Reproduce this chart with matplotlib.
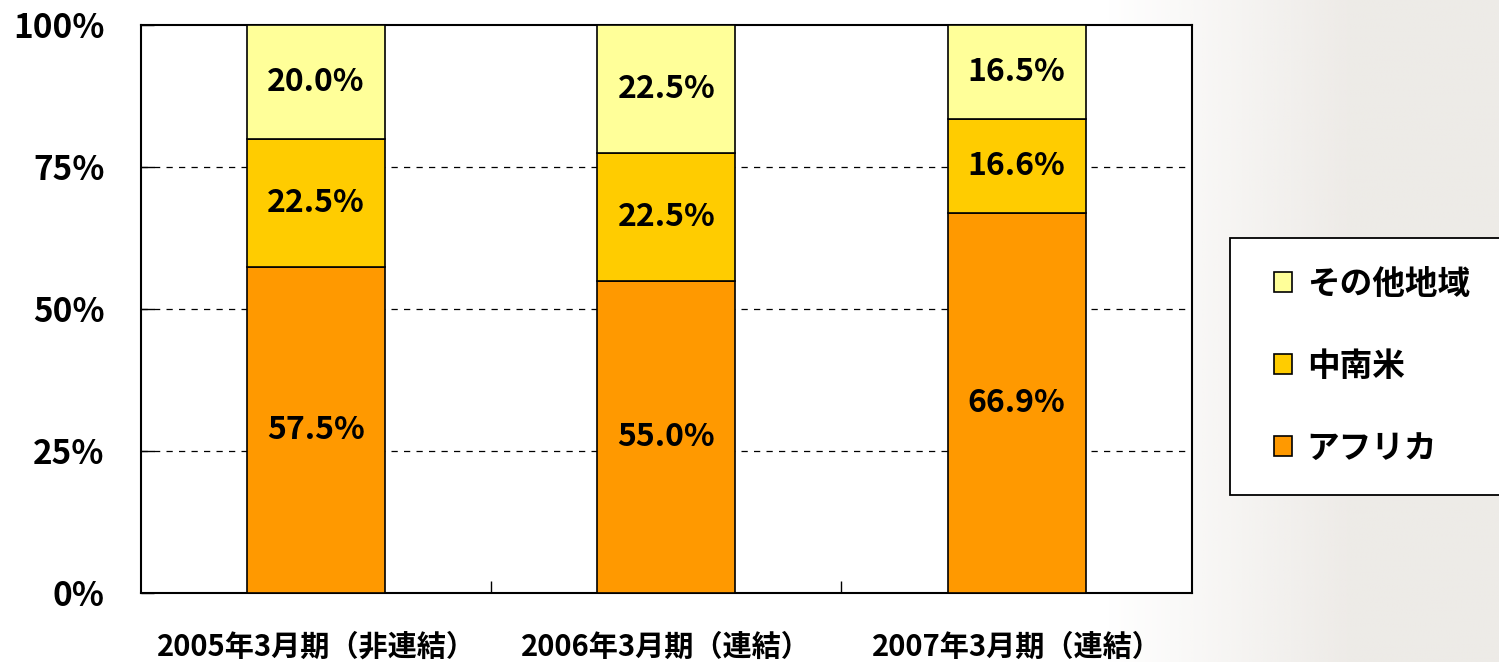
import numpy as np
import matplotlib
matplotlib.use('Agg')
import matplotlib.pyplot as plt
from matplotlib.ticker import FixedLocator
from matplotlib.patches import Rectangle

plt.rcParams['font.family'] = ['Noto Sans CJK JP', 'DejaVu Sans']
plt.rcParams['font.weight'] = 'bold'

# data
periods = ['2005年3月期（非連結）', '2006年3月期（連結）', '2007年3月期（連結）']
africa = [57.5, 55.0, 66.9]
latam = [22.5, 22.5, 16.6]
others = [20.0, 22.5, 16.5]
series_names = ['アフリカ', '中南米', 'その他地域']
colors = ['#FF9900', '#FFCC00', '#FFFF99']
yticks = [0, 25, 50, 75, 100]

fig = plt.figure(figsize=(14.99, 6.62), dpi=100)

# faint textured backdrop on the right side
bg = fig.add_axes([0, 0, 1, 1], zorder=-5)
bg.axis('off')
w = np.linspace(0, 1, 600)
alpha = np.clip((w - 0.74) / 0.16, 0, 1) * 0.9
img = np.zeros((10, 600, 4))
img[..., 0] = 236 / 255
img[..., 1] = 233 / 255
img[..., 2] = 229 / 255
img[..., 3] = alpha[None, :]
bg.imshow(img, aspect='auto', extent=[0, 1, 0, 1])
bg.set_xlim(0, 1)
bg.set_ylim(0, 1)

ax = fig.add_axes([0.094, 0.104, 0.701, 0.858])
ax.set_facecolor('white')

x = np.arange(len(periods))
bw = 0.394
bottom = np.zeros(len(periods))
for vals, name, c in zip([africa, latam, others], series_names, colors):
    ax.bar(x, vals, bw, bottom=bottom, color=c, edgecolor='black',
           linewidth=1.2, label=name, zorder=3)
    for xi, b, v in zip(x, bottom, vals):
        ax.text(xi, b + v / 2, f'{v:.1f}%', ha='center', va='center',
                fontsize=23, fontweight='bold', zorder=4)
    bottom = bottom + np.array(vals)

ax.set_xlim(-0.5, len(periods) - 0.5)
ax.set_ylim(0, 100)
ax.set_yticks(yticks)
ax.set_yticklabels([f'{t}%' for t in yticks], fontsize=24, fontweight='bold')
ax.set_xticks(x)
ax.set_xticklabels(periods, fontsize=21, fontweight='bold')
ax.xaxis.set_minor_locator(FixedLocator([0.5, 1.5]))
ax.tick_params(axis='x', which='major', length=0, pad=28)
ax.tick_params(axis='x', which='minor', direction='in', length=9, width=1)
ax.tick_params(axis='y', direction='in', length=9, width=1, pad=26)

for t in [25, 50, 75]:
    ax.axhline(t, color='black', linestyle=(0, (5, 5)), linewidth=0.9, zorder=1)

for s in ax.spines.values():
    s.set_linewidth(1.5)
    s.set_color('black')

# legend box runs off the right edge of the picture
fig.patches.append(Rectangle((0.8205, 0.2523), 0.2, 0.388, transform=fig.transFigure,
                             facecolor='white', edgecolor='black', linewidth=1.3,
                             zorder=1))
handles, labels = ax.get_legend_handles_labels()
leg = fig.legend(handles[::-1], labels[::-1], loc='center left',
                 bbox_to_anchor=(0.85, 0.447), frameon=False,
                 prop={'size': 23.5, 'weight': 'bold'},
                 handlelength=0.55, handleheight=0.55, handletextpad=0.45,
                 labelspacing=1.5, borderpad=0, borderaxespad=0)

fig.savefig('out.png', dpi=100)
